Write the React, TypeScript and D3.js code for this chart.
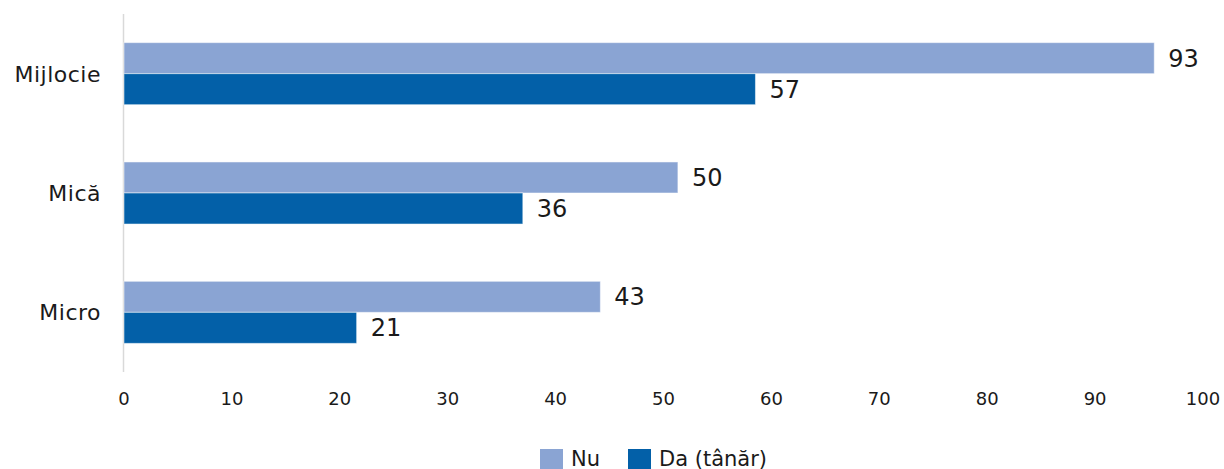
import React, { useEffect, useRef } from "react";
import * as d3 from "d3";

// categorii (de sus in jos) si seriile
const categories = ["Mijlocie", "Mică", "Micro"];
const seriesNames = ["Nu", "Da (tânăr)"];
const nuValues = [93, 50, 43];
const daValues = [57, 36, 21];
const tickLabels = ["0", "10", "20", "30", "40", "50", "60", "70", "80", "90", "100"];

const colors = ["#8aa4d3", "#0360a8"];

const App: React.FC = () => {
  const ref = useRef<HTMLDivElement>(null);

  useEffect(() => {
    const width = 1224;
    const height = 469;
    const left = 124;
    const right = 1203;
    const top = 14;
    const bottom = 372;
    const font = "'DejaVu Sans', sans-serif";

    const svg = d3
      .select(ref.current)
      .selectAll("svg")
      .data([null])
      .join("svg")
      .attr("width", width)
      .attr("height", height)
      .style("position", "absolute")
      .style("left", "0px")
      .style("top", "0px");
    svg.selectAll("*").remove();

    // barele sunt desenate pe o scara putin diferita de etichetele axei (ca in original)
    const x = d3.scaleLinear().domain([0, 97.4]).range([left, right]);
    const xTicks = d3.scalePoint<string>().domain(tickLabels).range([left, right]);

    const y = d3
      .scaleBand<string>()
      .domain(categories)
      .range([top, bottom])
      .paddingInner(0.48)
      .paddingOuter(0.24);
    const inner = d3.scaleBand<number>().domain([0, 1]).range([0, y.bandwidth()]);

    // axa verticala
    svg
      .append("line")
      .attr("x1", left - 0.5)
      .attr("x2", left - 0.5)
      .attr("y1", top)
      .attr("y2", bottom)
      .attr("stroke", "#d9d9d9")
      .attr("stroke-width", 1.5);

    const series = [nuValues, daValues];

    categories.forEach((cat, ci) => {
      series.forEach((vals, si) => {
        const y0 = (y(cat) as number) + (inner(si) as number);
        svg
          .append("rect")
          .attr("x", x(0))
          .attr("y", y0)
          .attr("width", x(vals[ci]) - x(0))
          .attr("height", inner.bandwidth())
          .attr("fill", colors[si])
          .attr("stroke", "#ffffff")
          .attr("stroke-opacity", 0.5)
          .attr("stroke-width", 1);

        svg
          .append("text")
          .attr("x", x(vals[ci]) + 14)
          .attr("y", y0 + inner.bandwidth() / 2)
          .attr("dy", "0.36em")
          .attr("font-family", font)
          .attr("font-size", 24)
          .attr("fill", "#1a1a1a")
          .text(vals[ci]);
      });

      svg
        .append("text")
        .attr("x", 101)
        .attr("y", (y(cat) as number) + y.bandwidth() / 2)
        .attr("dy", "0.36em")
        .attr("text-anchor", "end")
        .attr("font-family", font)
        .attr("font-size", 22)
        .attr("letter-spacing", 0.5)
        .attr("fill", "#1a1a1a")
        .text(cat);
    });

    // etichete axa x
    svg
      .selectAll(".tick")
      .data(tickLabels)
      .join("text")
      .attr("x", (d) => xTicks(d) as number)
      .attr("y", 399)
      .attr("dy", "0.36em")
      .attr("text-anchor", "middle")
      .attr("font-family", font)
      .attr("font-size", 18)
      .attr("fill", "#1a1a1a")
      .text((d) => d);

    // legenda
    const legendX = [540, 628];
    seriesNames.forEach((name, i) => {
      svg
        .append("rect")
        .attr("x", legendX[i])
        .attr("y", 449)
        .attr("width", 23)
        .attr("height", 23)
        .attr("fill", colors[i]);
      svg
        .append("text")
        .attr("x", legendX[i] + 31)
        .attr("y", 466)
        .attr("font-family", font)
        .attr("font-size", 21)
        .attr("fill", "#1a1a1a")
        .text(name);
    });
  }, []);

  return <div ref={ref} />;
};

export default App;
